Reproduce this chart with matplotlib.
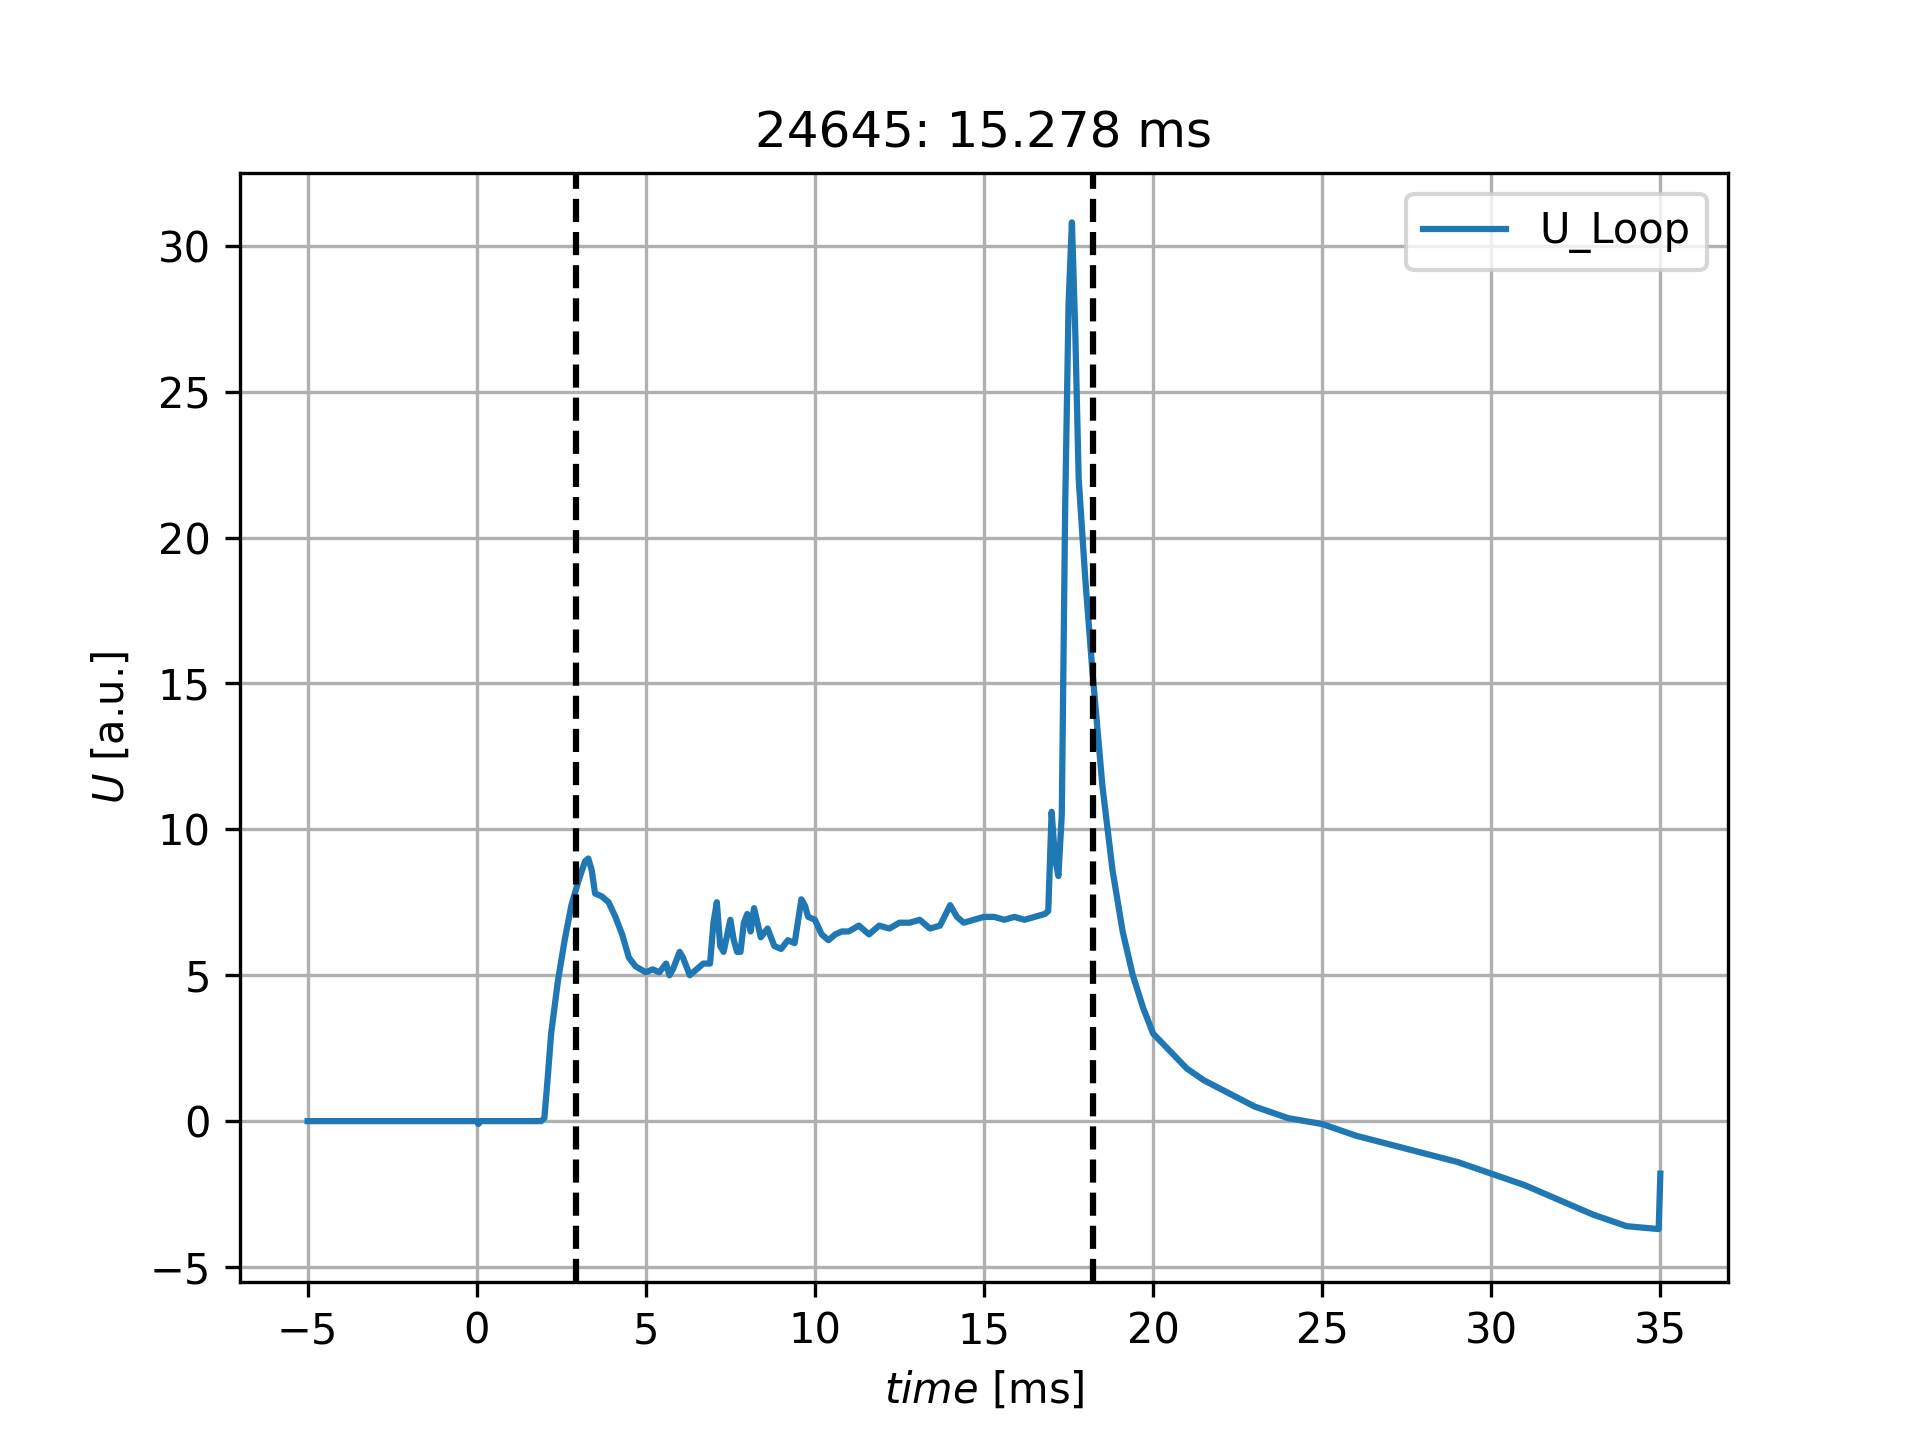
import matplotlib
matplotlib.use("Agg")
import matplotlib.pyplot as plt

time_ms = [-5, 0, 0.05, 0.1, 1.9, 2.0, 2.1, 2.2, 2.4, 2.6, 2.8, 3.0, 3.2, 3.3, 3.4, 3.5, 3.7, 3.9, 4.1, 4.3,
           4.5, 4.7, 5.0, 5.2, 5.4, 5.6, 5.7, 5.8, 6.0, 6.1, 6.3, 6.5, 6.7, 6.9, 7.0, 7.1, 7.2, 7.3, 7.5, 7.6,
           7.7, 7.8, 7.9, 8.0, 8.1, 8.2, 8.4, 8.6, 8.8, 9.0, 9.2, 9.4, 9.6, 9.7, 9.8, 10.0, 10.2, 10.4, 10.6,
           10.8, 11.0, 11.3, 11.6, 11.9, 12.2, 12.5, 12.8, 13.1, 13.4, 13.7, 14.0, 14.2, 14.4, 14.7, 15.0,
           15.3, 15.6, 15.9, 16.2, 16.5, 16.8, 16.9, 17.0, 17.1, 17.2, 17.3, 17.4, 17.5, 17.6, 17.7, 17.8,
           18.0, 18.2, 18.5, 18.8, 19.1, 19.4, 19.7, 20.0, 20.5, 21.0, 21.5, 22.0, 23.0, 24.0, 25.0, 26.0,
           27.0, 28.0, 29.0, 30.0, 31.0, 32.0, 33.0, 34.0, 34.95, 35.0]
u_loop = [0, 0, -0.1, 0, 0, 0.1, 1.5, 3.0, 4.8, 6.2, 7.4, 8.2, 8.9, 9.0, 8.6, 7.8, 7.7, 7.5, 7.0, 6.4,
          5.6, 5.3, 5.1, 5.2, 5.1, 5.4, 5.0, 5.2, 5.8, 5.6, 5.0, 5.2, 5.4, 5.4, 6.8, 7.5, 6.0, 5.8, 6.9, 6.2,
          5.8, 5.8, 6.8, 7.1, 6.5, 7.3, 6.3, 6.6, 6.0, 5.9, 6.2, 6.1, 7.6, 7.4, 7.0, 6.9, 6.4, 6.2, 6.4,
          6.5, 6.5, 6.7, 6.4, 6.7, 6.6, 6.8, 6.8, 6.9, 6.6, 6.7, 7.4, 7.0, 6.8, 6.9, 7.0,
          7.0, 6.9, 7.0, 6.9, 7.0, 7.1, 7.2, 10.6, 9.0, 8.4, 10.5, 21.0, 28.0, 30.8, 27.0, 22.0,
          18.5, 15.5, 11.5, 8.6, 6.5, 5.0, 3.9, 3.0, 2.4, 1.8, 1.4, 1.1, 0.5, 0.1, -0.1, -0.5,
          -0.8, -1.1, -1.4, -1.8, -2.2, -2.7, -3.2, -3.6, -3.7, -1.8]

vlines = [2.95, 18.228]

fig, ax = plt.subplots(figsize=(6.4, 4.8), dpi=300)
n = min(len(time_ms), len(u_loop))
ax.plot(time_ms[:n], u_loop[:n], color="#1f77b4", label="U_Loop")
for v in vlines:
    ax.axvline(v, color="black", linestyle="--")
ax.grid(True)
ax.set_xlim(-7, 37)
ax.set_ylim(-5.5, 32.5)
ax.set_xlabel(r"$time$ [ms]")
ax.set_ylabel(r"$U$ [a.u.]")
ax.set_title("24645: 15.278 ms")
ax.legend(loc="upper right")
fig.savefig("out.png")
